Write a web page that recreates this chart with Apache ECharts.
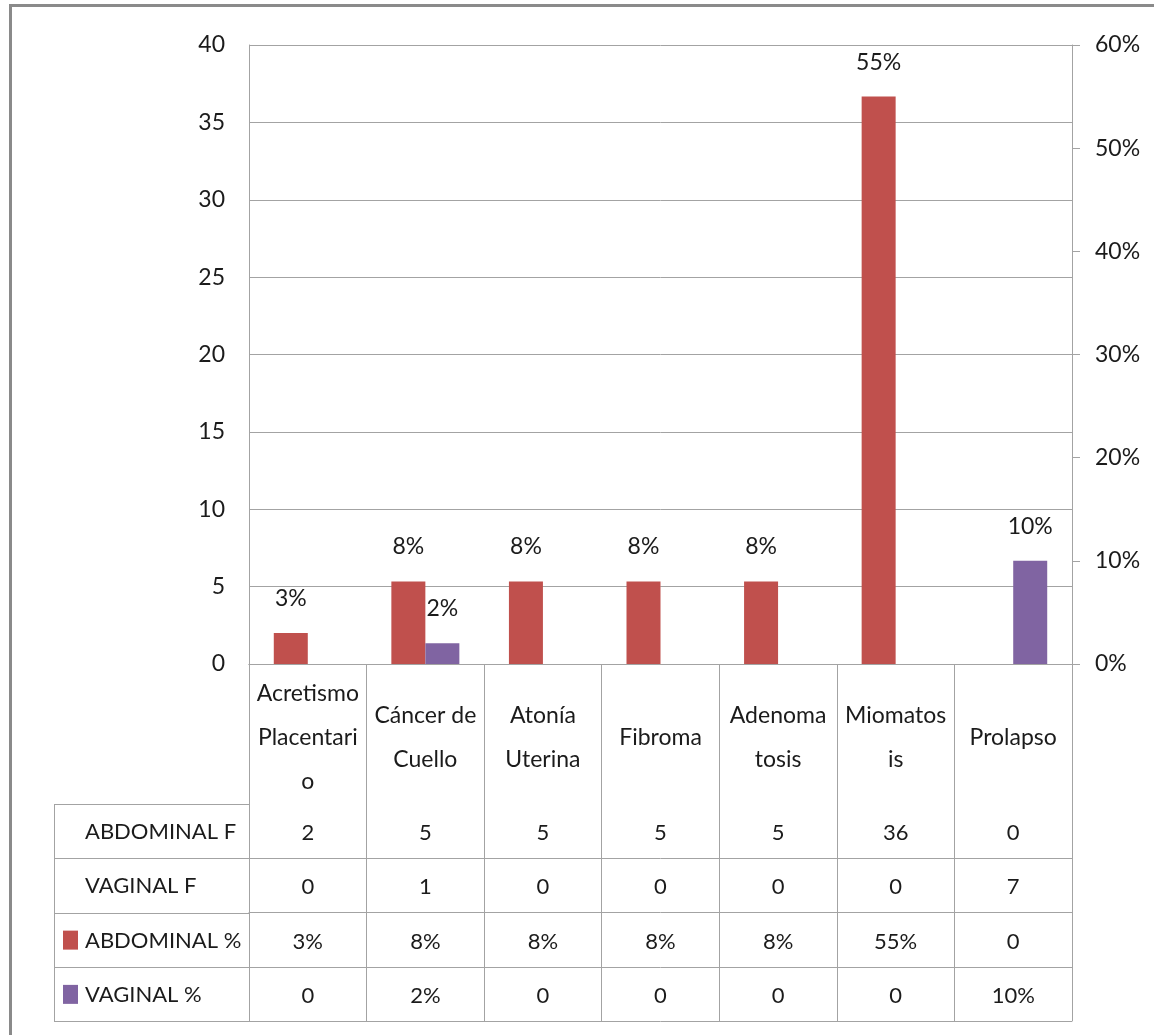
<!DOCTYPE html>
<html>
<head>
<meta charset="utf-8">
<title>Histerectomía abdominal y vaginal</title>
<script src="https://cdn.jsdelivr.net/npm/echarts@6/dist/echarts.min.js"></script>
<style>
  html, body { margin: 0; padding: 0; background: #fff; }
  #chart { width: 1154px; height: 1035px; }
</style>
</head>
<body>
<div id="chart"></div>
<script>
/* 数据 */
const categories = ['Acretismo\nPlacentari\no', 'Cáncer de\nCuello', 'Atonía\nUterina', 'Fibroma', 'Adenoma\ntosis', 'Miomatos\nis', 'Prolapso']
const abdominalF = [2, 5, 5, 5, 5, 36, 0]
const vaginalF = [0, 1, 0, 0, 0, 0, 7]
const abdominalPct = [3, 8, 8, 8, 8, 55, 0]
const vaginalPct = [0, 2, 0, 0, 0, 0, 10]
const rowNames = ['ABDOMINAL F', 'VAGINAL F', 'ABDOMINAL %', 'VAGINAL %']
const leftAxis = { min: 0, max: 40, interval: 5 }
const rightAxis = { min: 0, max: 60, interval: 10 }

/* 样式 */
const FONT = 'Lato, "Liberation Sans", sans-serif'
const TEXT = '#1b1b1b'
const LINE = '#a3a3a3'
const COLORS = ['#c0504d', '#8064a2']

/* 布局 */
const GRID = { left: 249, right: 1072, top: 45, bottom: 664 }
const CAT_H = 140 // 类别行高度
const ROW_H = 54.25 // 数据表每行高度
const TABLE_LEFT = 54
const TABLE_H = CAT_H + ROW_H * 4

// 数据表中每一行的格式
const pctText = v => (v ? v + '%' : '0')
const tableRows = [
  abdominalF.map(String),
  vaginalF.map(String),
  abdominalPct.map(pctText),
  vaginalPct.map(pctText)
]

// 表格横线用的 x 轴（带偏移）
function tableAxis(offset, values) {
  return {
    type: 'category',
    gridIndex: 0,
    position: 'bottom',
    offset: offset,
    data: categories,
    axisLine: { show: true, lineStyle: { color: LINE, width: 1 } },
    axisTick: { show: false },
    splitLine: { show: false },
    axisLabel: values
      ? {
          show: true,
          interval: 0,
          margin: ROW_H / 2 + 2,
          verticalAlign: 'middle',
          fontFamily: FONT,
          fontSize: 22,
          color: TEXT,
          formatter: (v, i) => values[i]
        }
      : { show: false }
  }
}

const xAxes = [
  {
    type: 'category',
    gridIndex: 0,
    position: 'bottom',
    data: categories,
    axisLine: { show: true, lineStyle: { color: LINE, width: 1 } },
    axisTick: {
      show: true,
      interval: 0,
      alignWithLabel: false,
      length: TABLE_H,
      lineStyle: { color: LINE, width: 1 }
    },
    axisLabel: {
      interval: 0,
      margin: CAT_H / 2 + 4,
      verticalAlign: 'middle',
      align: 'center',
      fontFamily: FONT,
      fontSize: 23,
      lineHeight: 44,
      color: TEXT
    }
  }
]
for (let r = 0; r < 4; r++) {
  xAxes.push(tableAxis(CAT_H + ROW_H * r, tableRows[r]))
}
xAxes.push(tableAxis(TABLE_H, null))

// 左侧表头（行名、图例色块、线）
const graphics = [
  {
    type: 'rect',
    shape: { x: 10.5, y: 5.5, width: 1300, height: 1200 },
    style: { fill: 'none', stroke: '#8a8a8a', lineWidth: 3 },
    silent: true
  },
  {
    type: 'line',
    shape: { x1: TABLE_LEFT + 0.5, y1: GRID.bottom + CAT_H, x2: TABLE_LEFT + 0.5, y2: GRID.bottom + TABLE_H },
    style: { stroke: LINE, lineWidth: 1 }
  }
]
for (let r = 0; r <= 4; r++) {
  const y = Math.round(GRID.bottom + CAT_H + ROW_H * r) + 0.5
  graphics.push({
    type: 'line',
    shape: { x1: TABLE_LEFT, y1: y, x2: GRID.left, y2: y },
    style: { stroke: LINE, lineWidth: 1 }
  })
}
rowNames.forEach((name, r) => {
  const cy = GRID.bottom + CAT_H + ROW_H * (r + 0.5) + 1
  graphics.push({
    type: 'text',
    x: 85,
    y: cy,
    style: {
      text: name,
      fontFamily: FONT,
      fontSize: 22,
      fill: TEXT,
      verticalAlign: 'middle',
      align: 'left'
    }
  })
  if (r >= 2) {
    graphics.push({
      type: 'rect',
      shape: { x: 63, y: cy - 10, width: 15, height: 19 },
      style: { fill: COLORS[r - 2] }
    })
  }
})

const barLabel = {
  show: true,
  position: 'top',
  distance: 23,
  fontFamily: FONT,
  fontSize: 23,
  color: TEXT,
  formatter: p => (p.value ? p.value + '%' : '')
}

const chart = echarts.init(document.getElementById('chart'))
chart.setOption({
  animation: false,
  backgroundColor: '#fff',
  grid: {
    left: GRID.left,
    top: GRID.top,
    width: GRID.right - GRID.left,
    height: GRID.bottom - GRID.top,
    outerBoundsMode: 'none'
  },
  xAxis: xAxes,
  yAxis: [
    {
      type: 'value',
      min: leftAxis.min,
      max: leftAxis.max,
      interval: leftAxis.interval,
      axisLine: { show: true, lineStyle: { color: LINE, width: 1 } },
      axisTick: { show: false },
      splitLine: { show: true, lineStyle: { color: LINE, width: 1 } },
      axisLabel: { margin: 24, fontFamily: FONT, fontSize: 23, color: TEXT }
    },
    {
      type: 'value',
      position: 'right',
      min: rightAxis.min,
      max: rightAxis.max,
      interval: rightAxis.interval,
      axisLine: { show: true, lineStyle: { color: LINE, width: 1 } },
      axisTick: { show: true, length: 8, lineStyle: { color: LINE, width: 1 } },
      splitLine: { show: false },
      axisLabel: { margin: 23, fontFamily: FONT, fontSize: 23, color: TEXT, formatter: '{value}%' }
    }
  ],
  series: [
    {
      name: 'ABDOMINAL %',
      type: 'bar',
      xAxisIndex: 0,
      yAxisIndex: 1,
      barWidth: 34,
      barGap: '0%',
      itemStyle: { color: COLORS[0] },
      label: barLabel,
      data: abdominalPct
    },
    {
      name: 'VAGINAL %',
      type: 'bar',
      xAxisIndex: 0,
      yAxisIndex: 1,
      barWidth: 34,
      barGap: '0%',
      itemStyle: { color: COLORS[1] },
      label: barLabel,
      data: vaginalPct
    }
  ],
  graphic: graphics
})
</script>
</body>
</html>
